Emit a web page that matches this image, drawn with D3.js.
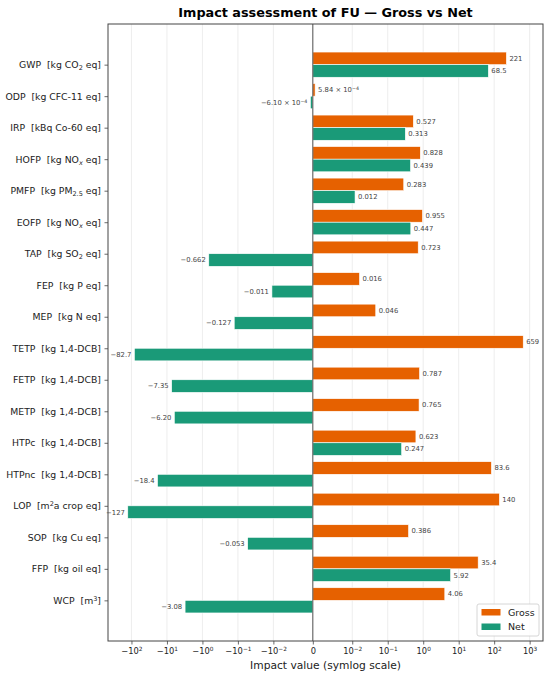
<!DOCTYPE html>
<html>
<head>
<meta charset="utf-8">
<script src="https://cdn.jsdelivr.net/npm/d3@7/dist/d3.min.js"></script>
<style>
  body { margin: 0; background: #fff; }
  text { font-family: "DejaVu Sans", sans-serif; white-space: pre; }
</style>
</head>
<body>
<div class="chart"></div>
<script>
// categories, top to bottom; _{} = subscript, ^{} = superscript
const categories = [
  'GWP  [kg CO_{2} eq]', 'ODP  [kg CFC-11 eq]', 'IRP  [kBq Co-60 eq]',
  'HOFP  [kg NO_{x} eq]', 'PMFP  [kg PM_{2.5} eq]', 'EOFP  [kg NO_{x} eq]',
  'TAP  [kg SO_{2} eq]', 'FEP  [kg P eq]', 'MEP  [kg N eq]',
  'TETP  [kg 1,4-DCB]', 'FETP  [kg 1,4-DCB]', 'METP  [kg 1,4-DCB]',
  'HTPc  [kg 1,4-DCB]', 'HTPnc  [kg 1,4-DCB]', 'LOP  [m^{2}a crop eq]',
  'SOP  [kg Cu eq]', 'FFP  [kg oil eq]', 'WCP  [m^{3}]'
];
const gross = [221, 5.84e-4, 0.527, 0.828, 0.283, 0.955, 0.723, 0.016, 0.046,
  659, 0.787, 0.765, 0.623, 83.6, 140, 0.386, 35.4, 4.06];
const net = [68.5, -6.10e-4, 0.313, 0.439, 0.012, 0.447, -0.662, -0.011, -0.127,
  -82.7, -7.35, -6.20, 0.247, -18.4, -127, -0.053, 5.92, -3.08];
const tickValues = [-100, -10, -1, -0.1, -0.01, 0, 0.01, 0.1, 1, 10, 100, 1000];
const tickLabels = ['−10^{2}', '−10^{1}', '−10^{0}', '−10^{-1}', '−10^{-2}', '0',
  '10^{-2}', '10^{-1}', '10^{0}', '10^{1}', '10^{2}', '10^{3}'];
const seriesNames = ['Gross', 'Net'];
const colors = ['#e66100', '#1a9a78'];

const W = 550, H = 677;
const margin = {top: 24, right: 7, bottom: 36, left: 108};
const width = W - margin.left - margin.right;
const height = H - margin.top - margin.bottom;
const barH = 0.4;

// matplotlib-style symlog (linthresh 0.01, linscale 1, base 10), in decades
const linthresh = 0.01;
const linscaleAdj = 1 / (1 - 1 / 10);
const symlog = function (v) {
  const a = Math.abs(v);
  if (a <= linthresh) return v / linthresh * linscaleAdj;
  return Math.sign(v) * (linscaleAdj + Math.log10(a / linthresh));
};

const allT = gross.concat(net).map(symlog);
const tMin = d3.min(allT), tMax = d3.max(allT);
const tPad = (tMax - tMin) * 0.05;
const xLin = d3.scaleLinear()
    .domain([tMin - tPad, tMax + tPad])
    .range([0, width]);
const x = v => xLin(symlog(v));

const yLo = -barH, yHi = categories.length - 1 + barH;
const yPad = (yHi - yLo) * 0.05;
const yScale = d3.scaleLinear()
    .domain([yLo - yPad, yHi + yPad])
    .range([0, height]);

// writes a label with _{} / ^{} markup as tspans
const richText = function (sel, str, size) {
  sel.text(null).attr('font-size', size);
  const parts = str.split(/([_^]\{[^}]*\})/).filter(p => p.length);
  parts.forEach(p => {
    const m = p.match(/^([_^])\{([^}]*)\}$/);
    if (m) {
      const t = sel.append('tspan')
          .attr('font-size', size * 0.7)
          .attr('baseline-shift', m[1] === '_' ? '-22%' : '45%')
          .text(m[2].replace('-', '−'));
      if (m[2] === 'x') t.attr('font-style', 'italic');
    } else {
      sel.append('tspan').text(p);
    }
  });
};

const fmt = function (v) {
  const a = Math.abs(v);
  const sign = v < 0 ? '−' : '';
  if (a < 1e-3) {
    const e = Math.floor(Math.log10(a));
    return sign + (a / Math.pow(10, e)).toFixed(2) + ' × 10^{' + e + '}';
  }
  const dec = a < 1 ? 3 : a < 10 ? 2 : a < 100 ? 1 : 0;
  return sign + a.toFixed(dec);
};

const svg = d3.select('.chart').append('svg')
    .attr('width', W)
    .attr('height', H);

svg.append('text')
    .attr('x', margin.left + width / 2)
    .attr('y', 17)
    .attr('text-anchor', 'middle')
    .attr('font-size', 12.8)
    .attr('font-weight', 'bold')
    .text('Impact assessment of FU — Gross vs Net');

const g = svg.append('g')
    .attr('transform', `translate(${margin.left},${margin.top})`);

// grid
g.append('g').selectAll('line')
  .data(tickValues)
  .enter().append('line')
    .attr('x1', d => x(d)).attr('x2', d => x(d))
    .attr('y1', 0).attr('y2', height)
    .attr('stroke', '#e8e8e8')
    .attr('stroke-width', 0.8);

// bars
const series = [gross, net];
series.forEach((vals, s) => {
  const bars = g.append('g').attr('class', 'bars-' + s);
  bars.selectAll('rect')
    .data(vals)
    .enter().append('rect')
      .attr('x', d => Math.min(x(0), x(d)))
      .attr('width', d => Math.abs(x(d) - x(0)))
      .attr('y', (d, i) => yScale(i - barH + s * barH))
      .attr('height', yScale(barH) - yScale(0))
      .attr('fill', colors[s])
      .attr('stroke', '#fff')
      .attr('stroke-width', 0.6);

  bars.selectAll('text')
    .data(vals)
    .enter().append('text')
      .attr('x', d => x(d) + (d < 0 ? -3 : 3))
      .attr('y', (d, i) => yScale(i - barH / 2 + s * barH) + 2.4)
      .attr('text-anchor', d => d < 0 ? 'end' : 'start')
      .attr('fill', '#444')
      .each(function (d) { richText(d3.select(this), fmt(d), 6.8); });
});

// zero line
g.append('line')
    .attr('x1', x(0)).attr('x2', x(0))
    .attr('y1', 0).attr('y2', height)
    .attr('stroke', '#555')
    .attr('stroke-width', 1);

// axes
const xAxis = g.append('g')
    .attr('transform', `translate(0,${height})`)
    .call(d3.axisBottom(xLin)
      .tickValues(tickValues.map(symlog))
      .tickSize(3.5)
      .tickPadding(3.5));
xAxis.selectAll('.tick text')
    .attr('fill', '#222')
    .each(function (d, i) { richText(d3.select(this), tickLabels[i], 8.3); });

const yAxis = g.append('g')
    .call(d3.axisLeft(yScale)
      .tickValues(d3.range(categories.length))
      .tickSize(3.5)
      .tickPadding(3.5));
yAxis.selectAll('.tick text')
    .attr('fill', '#222')
    .each(function (d, i) { richText(d3.select(this), categories[i], 9.3); });

[xAxis, yAxis].forEach(a => {
  a.select('.domain').remove();
  a.selectAll('.tick line').attr('stroke', '#444').attr('stroke-width', 0.8);
});

// frame
g.append('rect')
    .attr('width', width)
    .attr('height', height)
    .attr('fill', 'none')
    .attr('stroke', '#444')
    .attr('stroke-width', 1);

svg.append('text')
    .attr('x', margin.left + width / 2)
    .attr('y', H - 8)
    .attr('text-anchor', 'middle')
    .attr('font-size', 10.7)
    .attr('fill', '#222')
    .text('Impact value (symlog scale)');

// legend
const legend = g.append('g')
    .attr('transform', `translate(${width - 66},${height - 37})`);
legend.append('rect')
    .attr('width', 62).attr('height', 32)
    .attr('rx', 2)
    .attr('fill', '#fff').attr('fill-opacity', 0.85)
    .attr('stroke', '#ccc').attr('stroke-width', 0.8);
seriesNames.forEach((name, i) => {
  legend.append('rect')
      .attr('x', 4.5).attr('y', 5 + i * 14.5)
      .attr('width', 19).attr('height', 6.5)
      .attr('fill', colors[i]);
  legend.append('text')
      .attr('x', 31).attr('y', 11.8 + i * 14.5)
      .attr('font-size', 9.5)
      .attr('fill', '#222')
      .text(name);
});
</script>
</body>
</html>
